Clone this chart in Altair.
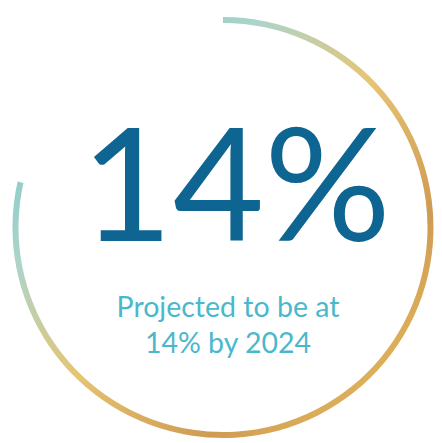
import altair as alt
import pandas as pd

# ---- data ----
headline = ["14%"]
subtitle_lines = ["Projected to be at", "14% by 2024"]
arc_start = [0]      # percent of the full circle
arc_end = [78.5]     # percent of the full circle

arc_df = pd.DataFrame({"start": arc_start, "end": arc_end})
head_df = pd.DataFrame({"label": headline})
sub_df = pd.DataFrame({"line": subtitle_lines, "row": list(range(len(subtitle_lines)))})

gradient = {
    "gradient": "linear",
    "x1": 0, "y1": 0, "x2": 1, "y2": 1,
    "stops": [
        {"offset": 0.12, "color": "#7cc9cb"},
        {"offset": 0.30, "color": "#aed4c8"},
        {"offset": 0.50, "color": "#e6c574"},
        {"offset": 0.73, "color": "#cf9b52"},
        {"offset": 0.90, "color": "#e2b75e"},
    ],
}

theta_scale = alt.Scale(domain=[0, 100], range=[0, 6.283185307])

ring = alt.Chart(arc_df).mark_arc(
    innerRadius=204.5, outerRadius=210.5, color=gradient
).encode(
    theta=alt.Theta("start:Q", scale=theta_scale, stack=None),
    theta2="end:Q",
    x=alt.value(215),
    y=alt.value(219.5),
)

head = alt.Chart(head_df).mark_text(
    font="Lato", fontSize=158, color="#0e6592", align="center", baseline="alphabetic"
).encode(
    text="label:N",
    x=alt.value(228),
    y=alt.value(233),
)

sub = alt.Chart(sub_df).mark_text(
    font="Lato", fontSize=28.5, color="#4ab8cc", align="center", baseline="alphabetic"
).encode(
    text="line:N",
    x=alt.value(220),
    y=alt.Y("row:Q", scale=alt.Scale(domain=[0, 1], range=[309, 345]), axis=None),
)

chart = alt.layer(ring, head, sub).properties(
    width=426, height=435, autosize=alt.AutoSizeParams(type="none"), padding=0
).configure_view(stroke=None)

chart.save("out.html", embed_options={"renderer": "svg", "actions": False})
